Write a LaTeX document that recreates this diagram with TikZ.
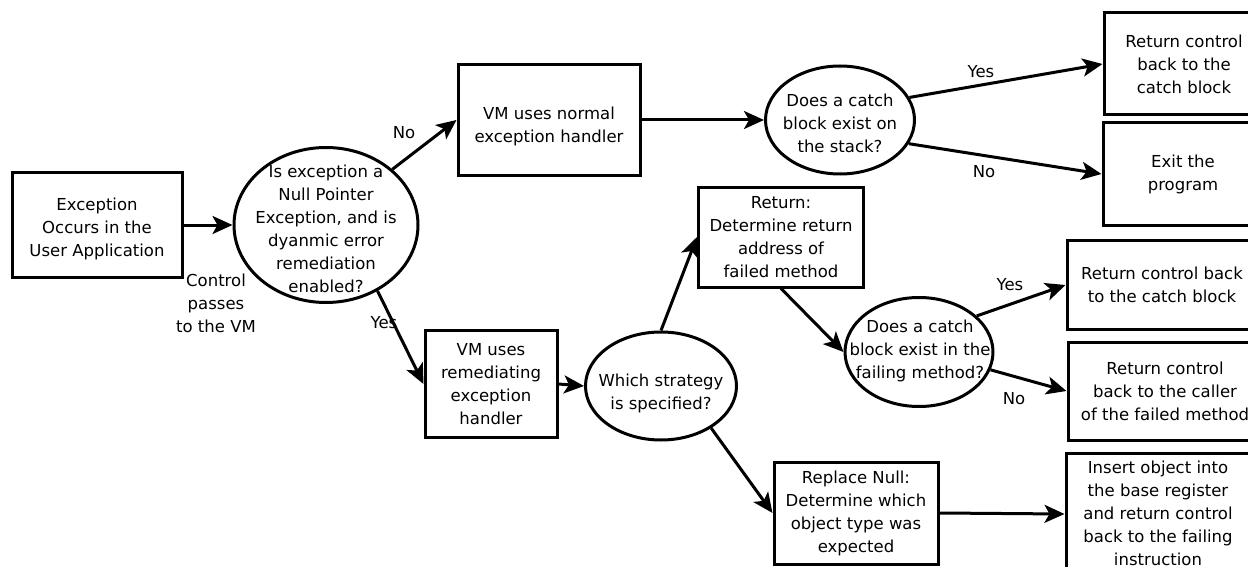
\documentclass[tikz,border=0pt]{standalone}
\usepackage{fontspec}
\setmainfont{DejaVu Sans}
\usetikzlibrary{shapes.geometric,arrows.meta}
\tikzset{
  box/.style={draw, line width=3pt, rectangle, align=center, inner sep=0pt},
  oval/.style={draw, line width=3pt, ellipse, inner sep=0pt},
  txt/.style={align=center, inner sep=0pt},
  arr/.style={line width=3pt, -{Stealth[length=20pt, width=18pt, inset=5pt]}},
  every node/.style={font=\fontsize{16.5}{23}\selectfont},
}
\begin{document}
\begin{tikzpicture}[x=1pt,y=-1pt]
\useasboundingbox (0,0) rectangle (1248,567);
\clip (0,0) rectangle (1248,567);

% start and first decision
\node[box, minimum width=170, minimum height=104] (A) at (97,225) {};
\node[txt] (At) at (97,229) {Exception\\Occurs in the\\User Application};
\node[oval, minimum width=184, minimum height=155] (B) at (326,225) {};
\node[txt] (Bt) at (326,229) {Is exception a\\Null Pointer\\Exception, and is\\dyanmic error\\remediation\\enabled?};

% normal handler branch
\node[box, minimum width=182, minimum height=111] (C) at (549,120) {};
\node[txt] (Ct) at (549,126) {VM uses normal\\exception handler};
\node[oval, minimum width=149, minimum height=108] (D) at (840,120) {};
\node[txt] (Dt) at (840,123) {Does a catch\\block exist on\\the stack?};
\node[box, minimum width=160, minimum height=102] (E) at (1184,64)
  {Return control\\back to the\\catch block};
\node[box, minimum width=160, minimum height=103] (F) at (1183,174)
  {Exit the\\program};

% remediating handler branch
\node[box, minimum width=132, minimum height=107] (G) at (491,384)
  {VM uses\\remediating\\exception\\handler};
\node[oval, minimum width=151, minimum height=108] (H) at (661,386) {};
\node[txt] (Ht) at (661,393) {Which strategy\\is specified?};
\node[box, minimum width=165, minimum height=100] (I) at (781,237)
  {Return:\\Determine return\\address of\\failed method};
\node[box, minimum width=164, minimum height=102] (J) at (856,513)
  {Replace Null:\\Determine which\\object type was\\expected};
\node[oval, minimum width=148, minimum height=109] (K) at (919,352) {};
\node[txt] (Kt) at (920,351) {Does a catch\\block exist in the\\failing method?};
\node[box, minimum width=190, minimum height=89] (L) at (1162,285)
  {Return control back\\to the catch block};
\node[box, minimum width=194, minimum height=98] (M) at (1165,391)
  {Return control\\back to the caller\\of the failed method};
\node[box, minimum width=190, minimum height=122] (N) at (1161,514) {};
\node[txt] (Nt) at (1158,513) {Insert object into\\the base register\\and return control\\back to the failing\\instruction};

% connectors
\draw[arr] (A.east) -- (B.west);
\draw[arr] (B.40) -- (C.west);
\draw[arr] (B.-52) -- (G.west);
\draw[arr] (C.east) -- (D.west);
\draw[arr] (D.18) -- (E.west);
\draw[arr] (D.-19) -- (F.west);
\draw[arr] (G.east) -- (H.west);
\draw[arr] (H.north) -- (I.west);
\draw[arr] (H.-40) -- (J.west);
\draw[arr] (I.south) -- (K.west);
\draw[arr] (K.32) -- (L.west);
\draw[arr] (K.-14) -- (M.west);
\draw[arr] (J.east) -- (N.west);

% connector labels
\node[txt] (cp) at (216,303) {Control\\passes\\to the VM};
\node[txt] (lno1) at (404,133) {No};
\node[txt] (lyes1) at (384,323) {Yes};
\node[txt] (lno2) at (984,172) {No};
\node[txt] (lyes2) at (981,72) {Yes};
\node[txt] (lyes3) at (1010,285) {Yes};
\node[txt] (lno3) at (1014,399) {No};
\end{tikzpicture}
\end{document}
